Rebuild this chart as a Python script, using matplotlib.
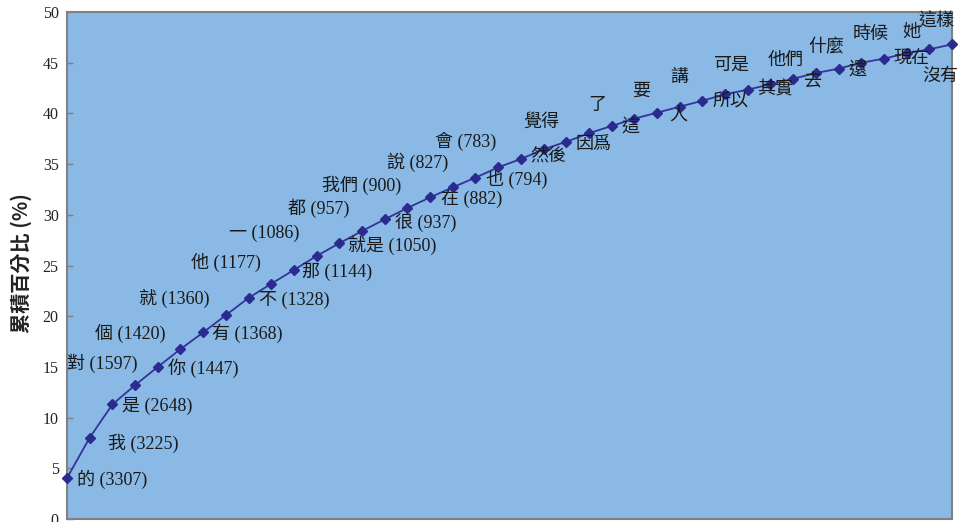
import matplotlib
matplotlib.use("Agg")
import matplotlib.pyplot as plt

# ---- data ----
words = ["的", "我", "是", "對", "你", "個", "有", "就", "不", "他",
         "那", "一", "就是", "都", "很", "我們", "在", "說", "也", "會",
         "然後", "覺得", "因爲", "了", "這", "要", "人", "講", "所以", "可是",
         "其實", "他們", "去", "什麼", "還", "時候", "現在", "她", "沒有", "這樣"]
counts = [3307, 3225, 2648, 1597, 1447, 1420, 1368, 1360, 1328, 1177,
          1144, 1086, 1050, 957, 937, 900, 882, 827, 794, 783]
cum_pct = [4.04, 8.02, 11.3, 13.2, 15.0, 16.75, 18.4, 20.1, 21.8, 23.2,
           24.56, 25.94, 27.19, 28.40, 29.55, 30.67, 31.72, 32.71, 33.66, 34.68,
           35.5, 36.46, 37.2, 38.04, 38.76, 39.48, 40.07, 40.66, 41.25, 41.88,
           42.34, 42.87, 43.42, 43.98, 44.41, 45.0, 45.4, 45.93, 46.32, 46.81]
y_ticks = [0, 5, 10, 15, 20, 25, 30, 35, 40, 45, 50]
y_label = "累積百分比 (%)"

# ---- label placement (pixel offsets from each point, and alignment) ----
label_pos = [
    (10, -1, "left"), (18, -6, "left"), (10, -2, "left"), (-33, 22, "center"),
    (10, -1, "left"), (-50, 16, "center"), (9, -1, "left"), (-52, 17, "center"),
    (10, -2, "left"), (-45, 21, "center"), (8, -2, "left"), (-52, 23, "center"),
    (9, -2, "left"), (-43, 23, "center"), (10, -3, "left"), (-46, 23, "center"),
    (11, -2, "left"), (-35, 25, "center"), (11, -2, "left"), (-33, 26, "center"),
    (9, 2, "left"), (-2, 27, "center"), (9, -3, "left"), (8, 28, "center"),
    (10, -2, "left"), (7, 27, "center"), (12, -2, "left"), (0, 29, "center"),
    (10, -1, "left"), (7, 29, "center"), (9, 0, "left"), (15, 24, "center"),
    (11, -3, "left"), (10, 25, "center"), (10, -1, "left"), (9, 28, "center"),
    (10, -1, "left"), (5, 21, "center"), (-7, -27, "left"), (-15, 22, "center"),
]

FAM = ["Liberation Serif", "Noto Sans CJK TC"]

fig = plt.figure(figsize=(9.6, 5.22), dpi=100)
fig.patch.set_facecolor("white")
W, H = 960, 522
ax = fig.add_axes([67 / W, 3 / H, (952 - 67) / W, (519 - 12) / H])
ax.set_facecolor("#89B9E4")

x = list(range(len(words)))
ax.plot(x, cum_pct, color="#33339A", linewidth=1.3, marker="D",
        markersize=4.6, markerfacecolor="#2B2B8F", markeredgecolor="#2B2B8F",
        clip_on=False, zorder=3)

for i, w in enumerate(words):
    txt = f"{w} ({counts[i]})" if i < len(counts) else w
    dx, dy, ha = label_pos[i]
    ax.annotate(txt, (x[i], cum_pct[i]), xytext=(dx, dy),
                textcoords="offset pixels", ha=ha, va="center",
                fontsize=13, family=FAM, color="#1a1a1a", zorder=4,
                annotation_clip=False)

ax.set_xlim(0, len(words) - 1)
ax.set_ylim(0, 50)
ax.set_yticks(y_ticks)
ax.set_xticks([])
ax.tick_params(axis="y", direction="in", length=4, width=1, color="#808080",
               pad=6, labelsize=11.5, labelcolor="#222222")
for lab in ax.get_yticklabels():
    lab.set_family(FAM)
for s in ax.spines.values():
    s.set_color("#808080")
    s.set_linewidth(1.5)

fig.text(21 / W, 1 - 263 / H, y_label, rotation=90, ha="center", va="center",
         fontsize=14.5, fontweight="bold",
         family=["Noto Sans CJK TC", "DejaVu Sans"], color="#222222")

fig.savefig("out.png", dpi=100, facecolor="white")
